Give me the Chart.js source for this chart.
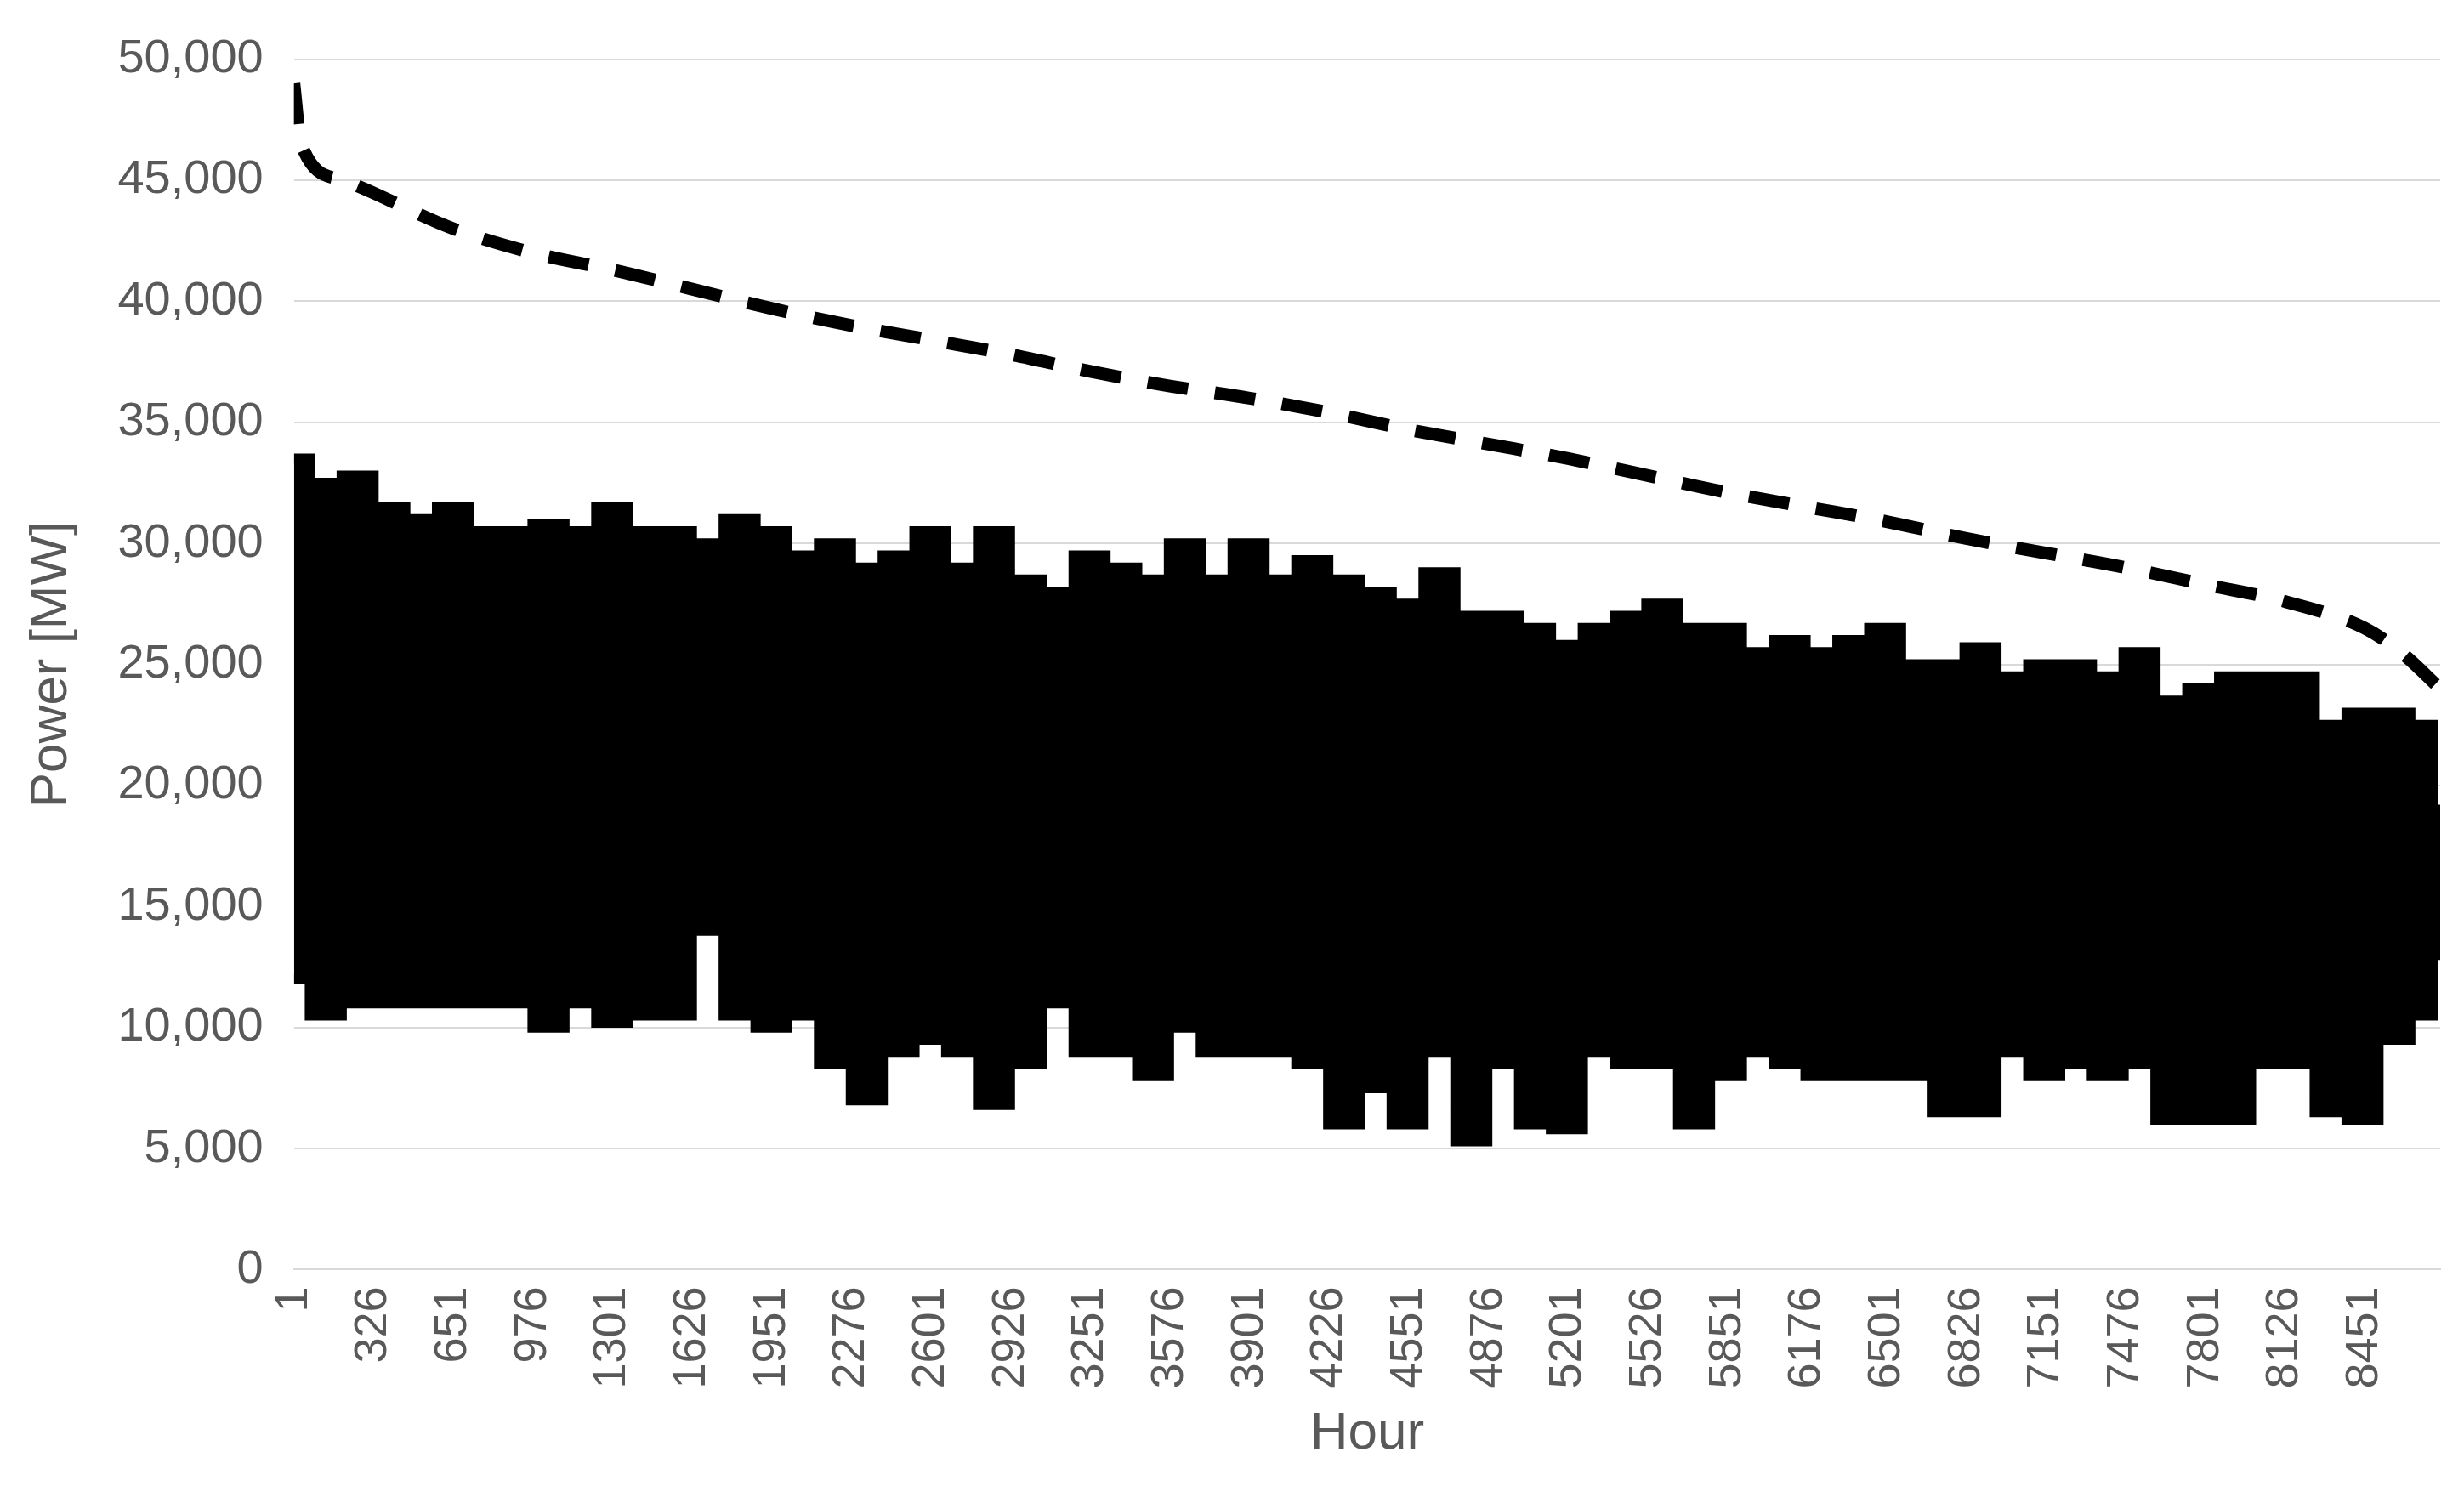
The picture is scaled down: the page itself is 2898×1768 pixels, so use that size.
<!DOCTYPE html>
<html>
<head>
<meta charset="utf-8">
<script src="https://cdn.jsdelivr.net/npm/chart.js@4/dist/chart.umd.min.js"></script>
<style>
  html, body { margin: 0; padding: 0; background: #fff; }
  #wrap { width: 2898px; height: 1768px; }
</style>
</head>
<body>
<div id="wrap"><canvas id="myChart"></canvas></div>
<script>
// load duration curve (dashed)
var durationHours = [1, 30, 200, 651, 976, 1301, 1626, 1951, 2276, 2601, 2926, 3251, 3576, 3901, 4226, 4551, 4876, 5201, 5526, 5851, 6176, 6501, 6826, 7151, 7476, 7801, 8126, 8451, 8600, 8760];
var durationMW = [49000, 46500, 45000, 43000, 42000, 41300, 40500, 39700, 39000, 38400, 37800, 37100, 36500, 36000, 35400, 34700, 34100, 33500, 32800, 32100, 31500, 30900, 30200, 29600, 29000, 28300, 27600, 26500, 25500, 24000];

// hourly series, read as upper and lower envelope of the band
var bandHours = [1, 131, 261, 391, 520, 650, 780, 910, 1040, 1170, 1300, 1430, 1560, 1690, 1820, 1950, 2079, 2209, 2339, 2469, 2598, 2728, 2858, 2988, 3118, 3248, 3378, 3507, 3637, 3767, 3897, 4027, 4157, 4287, 4416, 4546, 4676, 4806, 4936, 5066, 5196, 5326, 5456, 5585, 5715, 5845, 5975, 6105, 6235, 6365, 6495, 6624, 6754, 6884, 7014, 7144, 7274, 7403, 7533, 7663, 7793, 7923, 8053, 8183, 8313, 8443, 8573, 8703, 8760];
var bandHigh = [33500, 32500, 32800, 31500, 31000, 31500, 30500, 30500, 30800, 30500, 31500, 30500, 30500, 30000, 31000, 30500, 29500, 30000, 29000, 29500, 30500, 29000, 30500, 28500, 28000, 29500, 29000, 28500, 30000, 28500, 30000, 28500, 29300, 28500, 28000, 27500, 28800, 27000, 27000, 26500, 25800, 26500, 27000, 27500, 26500, 26500, 25500, 26000, 25500, 26000, 26500, 25000, 25000, 25700, 24500, 25000, 25000, 24500, 25500, 23500, 24000, 24500, 24500, 24500, 22500, 23000, 23000, 22500, 19000];
var bandLow = [12000, 10500, 11000, 11000, 11000, 11000, 11000, 11000, 10000, 11000, 10200, 10500, 10500, 14000, 10500, 10000, 10500, 8500, 7000, 9000, 9500, 9000, 6800, 8500, 11000, 9000, 9000, 8000, 10000, 9000, 9000, 9000, 8500, 6000, 7500, 6000, 9000, 5300, 8500, 6000, 5800, 9000, 8500, 8500, 6000, 8000, 9000, 8500, 8000, 8000, 8000, 8000, 6500, 6500, 9000, 8000, 8500, 8000, 8500, 6200, 6200, 6200, 8500, 8500, 6500, 6200, 9500, 10500, 13000];

var hourTicks = [1, 326, 651, 976, 1301, 1626, 1951, 2276, 2601, 2926, 3251, 3576, 3901, 4226, 4551, 4876, 5201, 5526, 5851, 6176, 6501, 6826, 7151, 7476, 7801, 8126, 8451];

function pts(xs, ys) {
    return xs.map(function(x, i) { return { x: x, y: ys[i] }; });
}

var textColor = '#595959';

var config = {
    type: 'line',
    data: {
        datasets: [{
            label: 'Low',
            data: pts(bandHours, bandLow),
            borderColor: '#000',
            borderWidth: 12,
            pointRadius: 0,
            stepped: 'middle',
            fill: false
        }, {
            label: 'High',
            data: pts(bandHours, bandHigh),
            borderColor: '#000',
            borderWidth: 12,
            backgroundColor: '#000',
            pointRadius: 0,
            stepped: 'middle',
            fill: '-1'
        }, {
            label: 'Duration',
            data: pts(durationHours, durationMW),
            borderColor: '#000',
            borderWidth: 15,
            borderDash: [48, 32],
            pointRadius: 0,
            cubicInterpolationMode: 'monotone',
            fill: false
        }]
    },
    options: {
        responsive: true,
        maintainAspectRatio: false,
        animation: false,
        layout: { padding: { top: 48, right: 28, bottom: 40, left: 20 } },
        plugins: {
            legend: { display: false },
            tooltip: { enabled: false }
        },
        scales: {
            x: {
                type: 'linear',
                min: 1,
                max: 8760,
                afterBuildTicks: function(axis) {
                    axis.ticks = hourTicks.map(function(v) { return { value: v }; });
                },
                ticks: {
                    color: textColor,
                    font: { family: 'Liberation Sans', size: 54 },
                    minRotation: 90,
                    maxRotation: 90,
                    autoSkip: false,
                    padding: 12,
                    callback: function(v) { return String(v); }
                },
                grid: { display: false },
                border: { color: '#d9d9d9', width: 2 },
                title: {
                    display: true,
                    text: 'Hour',
                    color: textColor,
                    font: { family: 'Liberation Sans', size: 62 }
                }
            },
            y: {
                min: 0,
                max: 50000,
                ticks: {
                    stepSize: 5000,
                    color: textColor,
                    font: { family: 'Liberation Sans', size: 56 },
                    padding: 36,
                    callback: function(v) { return v.toLocaleString('en-US'); }
                },
                grid: { color: '#d9d9d9', lineWidth: 2, drawTicks: false },
                border: { display: false },
                title: {
                    display: true,
                    text: 'Power [MW]',
                    color: textColor,
                    font: { family: 'Liberation Sans', size: 62 }
                }
            }
        }
    }
};

var ctx = document.getElementById('myChart').getContext('2d');
window.myChart = new Chart(ctx, config);
</script>
</body>
</html>
